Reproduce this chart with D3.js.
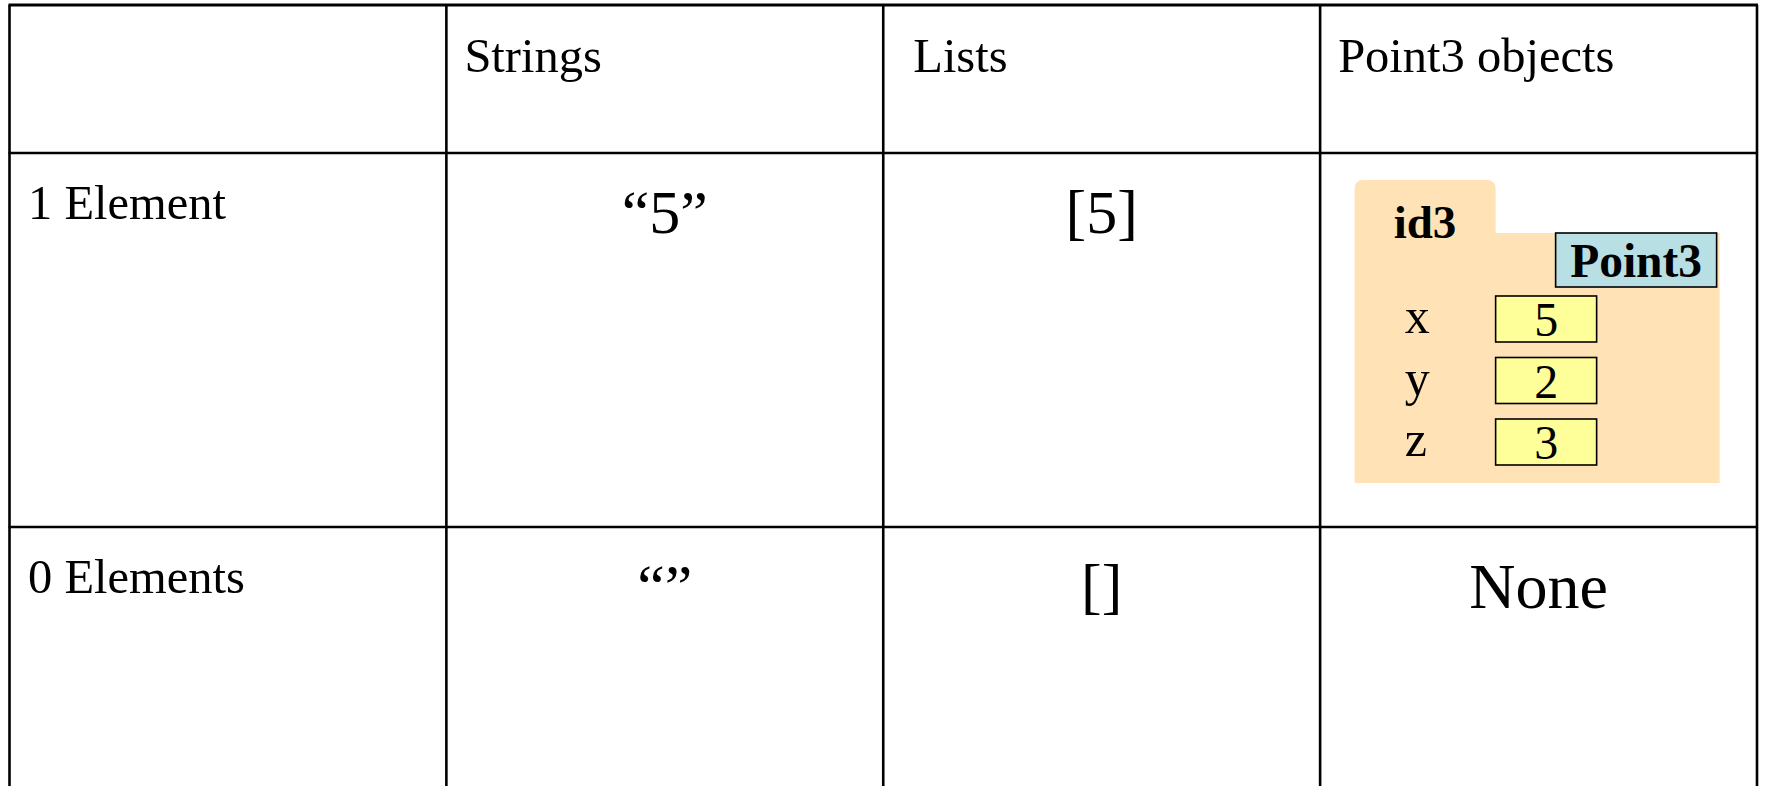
<!DOCTYPE html>
<html>
<head>
<meta charset="utf-8">
<script src="https://cdn.jsdelivr.net/npm/d3@7"></script>
<style>
  html, body { margin: 0; padding: 0; background: #ffffff; }
  svg { display: block; }
</style>
</head>
<body>
<svg id="chart" width="1765" height="786"></svg>
<script>
// ---- data ----
const columnHeaders = ["", "Strings", "Lists", "Point3 objects"];
const rowLabels = ["1 Element", "0 Elements"];
const stringValues = ["\u201c5\u201d", "\u201c\u201d"];
const listValues = ["[5]", "[]"];
const objectValues = ["id3", "None"];
const objectClass = "Point3";
const fieldNames = ["x", "y", "z"];
const fieldValues = [5, 2, 3];

// ---- layout ----
const W = 1765, H = 786;
const font = "'Liberation Serif', 'Times New Roman', serif";
const svg = d3.select("#chart");

const colScale = d3.scaleBand().domain(d3.range(columnHeaders.length)).range([9.5, 1757]);
const rowEdges = [5, 153, 527, 800];
const rowScale = d3.scaleOrdinal().domain([0, 1, 2]).range(rowEdges.slice(0, 3));

// grid lines
const gridColor = "#000";
const gw = 2.6;
svg.append("g").selectAll("line").data(rowEdges.slice(0, 3)).join("line")
  .attr("x1", colScale(0) - 1).attr("x2", colScale(3) + colScale.bandwidth() + 1)
  .attr("y1", d => d).attr("y2", d => d)
  .attr("stroke", gridColor).attr("stroke-width", (d, i) => i === 0 ? 3 : gw);
const vEdges = d3.range(columnHeaders.length).map(i => colScale(i)).concat([colScale(3) + colScale.bandwidth()]);
svg.append("g").selectAll("line").data(vEdges).join("line")
  .attr("x1", d => d).attr("x2", d => d)
  .attr("y1", rowEdges[0]).attr("y2", H + 5)
  .attr("stroke", gridColor).attr("stroke-width", gw);

// header texts
const headerOffsets = [19, 18, 30, 18];
svg.append("g").selectAll("text").data(columnHeaders).join("text")
  .attr("x", (d, i) => colScale(i) + headerOffsets[i])
  .attr("y", rowScale(0) + 67)
  .attr("font-family", font).attr("font-size", 48.5).attr("fill", "#000")
  .text(d => d);

// row labels
svg.append("g").selectAll("text").data(rowLabels).join("text")
  .attr("x", colScale(0) + 18.5)
  .attr("y", (d, i) => rowScale(i + 1) + 65.5)
  .attr("font-family", font).attr("font-size", 48.5).attr("fill", "#000")
  .text(d => d);

const centerX = i => colScale(i) + colScale.bandwidth() / 2;
// strings column
svg.append("g").selectAll("text").data(stringValues).join("text")
  .attr("x", centerX(1)).attr("y", (d, i) => rowScale(i + 1) + 80)
  .attr("text-anchor", "middle")
  .attr("font-family", font).attr("font-size", 62).attr("fill", "#000")
  .text(d => d);

// lists column
svg.append("g").selectAll("text").data(listValues).join("text")
  .attr("x", centerX(2)).attr("y", (d, i) => rowScale(i + 1) + 80)
  .attr("text-anchor", "middle")
  .attr("font-family", font).attr("font-size", 62).attr("fill", "#000")
  .text(d => d);

// None in object column (row 2)
svg.append("text")
  .attr("x", centerX(3)).attr("y", rowScale(2) + 81)
  .attr("text-anchor", "middle")
  .attr("font-family", font).attr("font-size", 64).attr("fill", "#000")
  .text(objectValues[1]);

// ---- Point3 folder diagram (row 1) ----
const fx = colScale(3) + 34.5;
const fy = rowScale(1);
const folder = svg.append("g");
const tabL = fx, tabR = fx + 141, tabT = fy + 27, tabB = fy + 80, bodyR = fx + 365, bodyB = fy + 330, r = 8;
const folderPath = d3.path();
folderPath.moveTo(tabL, tabB);
folderPath.lineTo(tabL, tabT + r);
folderPath.arcTo(tabL, tabT, tabL + r, tabT, r);
folderPath.lineTo(tabR - r, tabT);
folderPath.arcTo(tabR, tabT, tabR, tabT + r, r);
folderPath.lineTo(tabR, tabB);
folderPath.lineTo(bodyR, tabB);
folderPath.lineTo(bodyR, bodyB);
folderPath.lineTo(tabL, bodyB);
folderPath.closePath();
folder.append("path").attr("d", folderPath.toString()).attr("fill", "#FFE2B6");

folder.append("text")
  .attr("x", fx + 39).attr("y", fy + 85)
  .attr("font-family", font).attr("font-size", 47).attr("font-weight", "bold").attr("fill", "#000")
  .text(objectValues[0]);

// class box
const cbx = fx + 201, cby = tabB, cbw = 161, cbh = 54;
folder.append("rect")
  .attr("x", cbx).attr("y", cby).attr("width", cbw).attr("height", cbh)
  .attr("fill", "#B8E0E4").attr("stroke", "#000").attr("stroke-width", 1.6);
folder.append("text")
  .attr("x", cbx + cbw / 2).attr("y", cby + 44)
  .attr("text-anchor", "middle")
  .attr("font-family", font).attr("font-size", 47.5).attr("font-weight", "bold").attr("fill", "#000")
  .text(objectClass);

// fields
const fieldY = d3.scaleLinear().domain([0, fieldNames.length - 1]).range([fy + 143, fy + 266]);
const vbx = fx + 141, vbw = 101, vbh = 46;
const fields = folder.append("g").selectAll("g").data(fieldNames).join("g");
fields.append("text")
  .attr("x", fx + 50).attr("y", (d, i) => fieldY(i) + 37)
  .attr("font-family", font).attr("font-size", 50).attr("fill", "#000")
  .text(d => d);
fields.append("rect")
  .attr("x", vbx).attr("y", (d, i) => fieldY(i)).attr("width", vbw).attr("height", vbh)
  .attr("fill", "#FFFF99").attr("stroke", "#000").attr("stroke-width", 1.6);
fields.append("text")
  .attr("x", vbx + vbw / 2).attr("y", (d, i) => fieldY(i) + 40)
  .attr("text-anchor", "middle")
  .attr("font-family", font).attr("font-size", 48).attr("fill", "#000")
  .text((d, i) => fieldValues[i]);
</script>
</body>
</html>
